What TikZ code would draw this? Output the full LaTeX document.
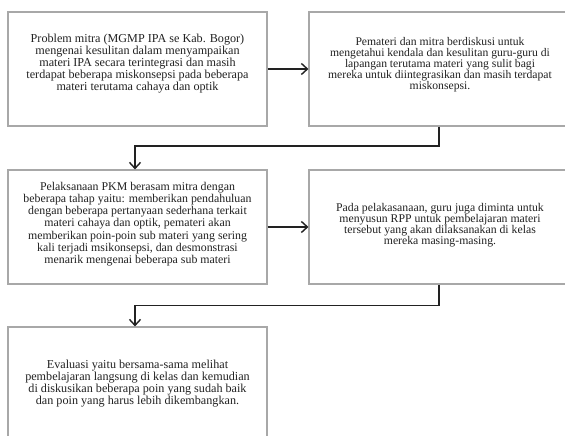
\documentclass[tikz,border=0pt]{standalone}
\usepackage{fontspec}
\setmainfont{Liberation Serif}
\usetikzlibrary{arrows.meta}
\definecolor{boxgray}{HTML}{A8A8A8}
\definecolor{inkc}{HTML}{222222}
\tikzset{
  box/.style={draw=boxgray, line width=1.1bp, fill=white, inner sep=0pt},
  boxtext/.style={text=inkc, align=center, inner sep=0pt},
  link/.style={draw=inkc, line width=1.5bp, -{Straight Barb[length=6bp,width=11bp,line width=1.4bp]}}
}
\begin{document}
\begin{tikzpicture}[x=1bp,y=-1bp]
\useasboundingbox (0,0) rectangle (565,436);
\fill[white] (0,0) rectangle (565,436);
\clip (0,0) rectangle (565,436);
\node[box, minimum width=259bp, minimum height=114bp] (b1) at (137.5,69) {};
\node[boxtext, font=\fontsize{12.2}{11}\selectfont] (t1) at (137.5,64)
 {Problem mitra (MGMP IPA se Kab. Bogor)\\ mengenai kesulitan dalam menyampaikan\\ materi IPA secara terintegrasi dan masih\\ terdapat beberapa miskonsepsi pada beberapa\\ materi terutama cahaya dan optik};
\node[box, minimum width=262bp, minimum height=114bp] (b2) at (440,69) {};
\node[boxtext, font=\fontsize{11.7}{11}\selectfont] (t2) at (440,65)
 {Pemateri dan mitra berdiskusi untuk\\ mengetahui kendala dan kesulitan guru-guru di\\ lapangan terutama materi yang sulit bagi\\ mereka untuk diintegrasikan dan masih terdapat\\ miskonsepsi.};
\node[box, minimum width=259bp, minimum height=114bp] (b3) at (137.5,227) {};
\node[boxtext, font=\fontsize{11.9}{12.3}\selectfont] (t3) at (137.5,224)
 {Pelaksanaan PKM berasam mitra dengan\\ beberapa tahap yaitu: memberikan pendahuluan\\ dengan beberapa pertanyaan sederhana terkait\\ materi cahaya dan optik, pemateri akan\\ memberikan poin-poin sub materi yang sering\\ kali terjadi msikonsepsi, dan desmonstrasi\\ menarik mengenai beberapa sub materi};
\node[box, minimum width=262bp, minimum height=114bp] (b4) at (440,227) {};
\node[boxtext, font=\fontsize{11.8}{11}\selectfont] (t4) at (440,225)
 {Pada pelakasanaan, guru juga diminta untuk\\ menyusun RPP untuk pembelajaran materi\\ tersebut yang akan dilaksanakan di kelas\\ mereka masing-masing.};
\node[box, minimum width=259bp, minimum height=118bp] (b5) at (137.5,386) {};
\node[boxtext, font=\fontsize{12.2}{11}\selectfont] (t5) at (137.5,383.5)
 {Evaluasi yaitu bersama-sama melihat\\ pembelajaran langsung di kelas dan kemudian\\ di diskusikan beberapa poin yang sudah baik\\ dan poin yang harus lebih dikembangkan.};
\draw[link] (b1.east) -- (b2.west);
\draw[link] (b3.east) -- (b4.west);
\coordinate (k1) at (439,146);
\coordinate (k2) at (439,305.5);
\draw[link] ([xshift=-1bp]b2.south) -- (k1) -| ([xshift=-2.5bp]b3.north);
\draw[link] ([xshift=-1bp]b4.south) -- (k2) -| ([xshift=-2.5bp]b5.north);
\end{tikzpicture}
\end{document}
